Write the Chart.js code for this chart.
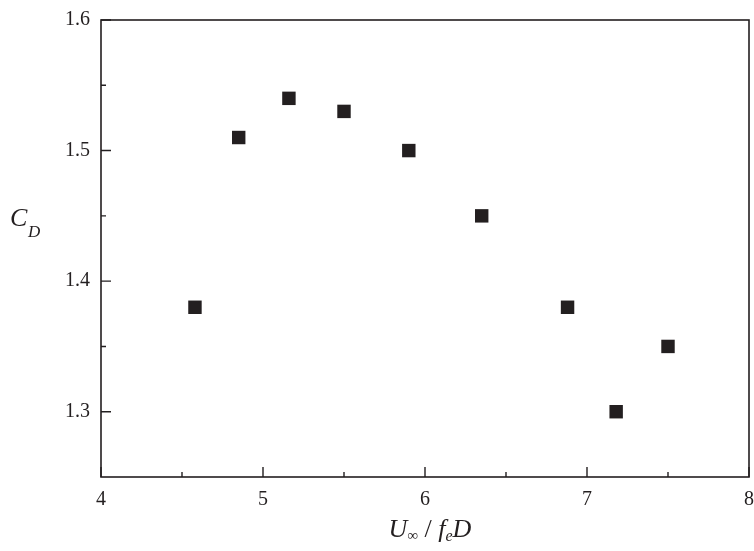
<!DOCTYPE html>
<html>
<head>
<meta charset="utf-8">
<script src="https://cdn.jsdelivr.net/npm/chart.js@4/dist/chart.umd.min.js"></script>
<style>
html,body{margin:0;padding:0;background:#fff;}
#wrap{width:754px;height:551px;position:relative;}
</style>
</head>
<body>
<div id="wrap"><canvas id="c" width="754" height="551"></canvas></div>
<script>
const xValues = [4.58, 4.85, 5.16, 5.50, 5.90, 6.35, 6.88, 7.18, 7.50];
const cdValues = [1.38, 1.51, 1.54, 1.53, 1.50, 1.45, 1.38, 1.30, 1.35];
const xMajorTicks = [4, 5, 6, 7, 8];
const xMinorTicks = [4.5, 5.5, 6.5, 7.5];
const yMajorTicks = [1.3, 1.4, 1.5, 1.6];
const yMinorTicks = [1.35, 1.45, 1.55];

const INK = '#231f20';
const SERIF = '"Liberation Serif", "DejaVu Serif", serif';

const framePlugin = {
  id: 'frame',
  afterDraw(chart) {
    const ctx = chart.ctx;
    const a = chart.chartArea;
    const xs = chart.scales.x, ys = chart.scales.y;
    ctx.save();
    ctx.strokeStyle = INK;
    ctx.lineWidth = 1.6;
    ctx.strokeRect(a.left, a.top, a.right - a.left, a.bottom - a.top);
    ctx.lineWidth = 1.4;
    ctx.beginPath();
    xMajorTicks.forEach(v => { const p = xs.getPixelForValue(v); ctx.moveTo(p, a.bottom); ctx.lineTo(p, a.bottom - 10); });
    xMinorTicks.forEach(v => { const p = xs.getPixelForValue(v); ctx.moveTo(p, a.bottom); ctx.lineTo(p, a.bottom - 5); });
    yMajorTicks.forEach(v => { const p = ys.getPixelForValue(v); ctx.moveTo(a.left, p); ctx.lineTo(a.left + 10, p); });
    yMinorTicks.forEach(v => { const p = ys.getPixelForValue(v); ctx.moveTo(a.left, p); ctx.lineTo(a.left + 5, p); });
    ctx.stroke();

    ctx.fillStyle = INK;
    ctx.textBaseline = 'alphabetic';
    ctx.textAlign = 'left';
    ctx.font = 'italic 26px ' + SERIF;
    ctx.fillText('C', 10, 226);
    ctx.font = 'italic 17px ' + SERIF;
    ctx.fillText('D', 28, 237);

    const parts = [
      {t: 'U', f: 'italic 26px ' + SERIF, dy: 0},
      {t: '\u221E', f: '15px ' + SERIF, dy: 3},
      {t: ' / ', f: '26px ' + SERIF, dy: 0},
      {t: 'f', f: 'italic 26px ' + SERIF, dy: 0},
      {t: 'e', f: 'italic 16px ' + SERIF, dy: 4},
      {t: 'D', f: 'italic 26px ' + SERIF, dy: 0}
    ];
    let total = 0;
    parts.forEach(p => { ctx.font = p.f; p.w = ctx.measureText(p.t).width; total += p.w; });
    let x = 430 - total / 2;
    const base = 537;
    parts.forEach(p => { ctx.font = p.f; ctx.fillText(p.t, x, base + p.dy); x += p.w; });
    ctx.restore();
  }
};

new Chart(document.getElementById('c'), {
  type: 'scatter',
  data: {
    datasets: [{
      data: xValues.map((v, i) => ({x: v, y: cdValues[i]})),
      pointStyle: 'rect',
      pointRadius: 9.5,
      pointHoverRadius: 9.5,
      backgroundColor: INK,
      borderColor: INK,
      borderWidth: 0
    }]
  },
  options: {
    responsive: false,
    animation: false,
    devicePixelRatio: 1,
    layout: {autoPadding: false, padding: {left: 0, top: 20, right: 5, bottom: 0}},
    plugins: {legend: {display: false}, tooltip: {enabled: false}},
    scales: {
      x: {
        type: 'linear', min: 4, max: 8,
        afterBuildTicks: s => { s.ticks = xMajorTicks.map(v => ({value: v})); },
        afterFit: s => { s.height = 74; s.paddingRight = 0; s.paddingLeft = 0; },
        grid: {display: false, drawTicks: false},
        border: {display: false},
        ticks: {color: INK, font: {family: SERIF, size: 20}, padding: 11, maxRotation: 0}
      },
      y: {
        type: 'linear', min: 1.25, max: 1.6,
        afterBuildTicks: s => { s.ticks = yMajorTicks.map(v => ({value: v})); },
        afterFit: s => { s.width = 101; s.paddingTop = 0; s.paddingBottom = 0; },
        grid: {display: false, drawTicks: false},
        border: {display: false},
        ticks: {color: INK, font: {family: SERIF, size: 20}, padding: 11,
          callback: v => v.toFixed(1)}
      }
    }
  },
  plugins: [framePlugin]
});
</script>
</body>
</html>
